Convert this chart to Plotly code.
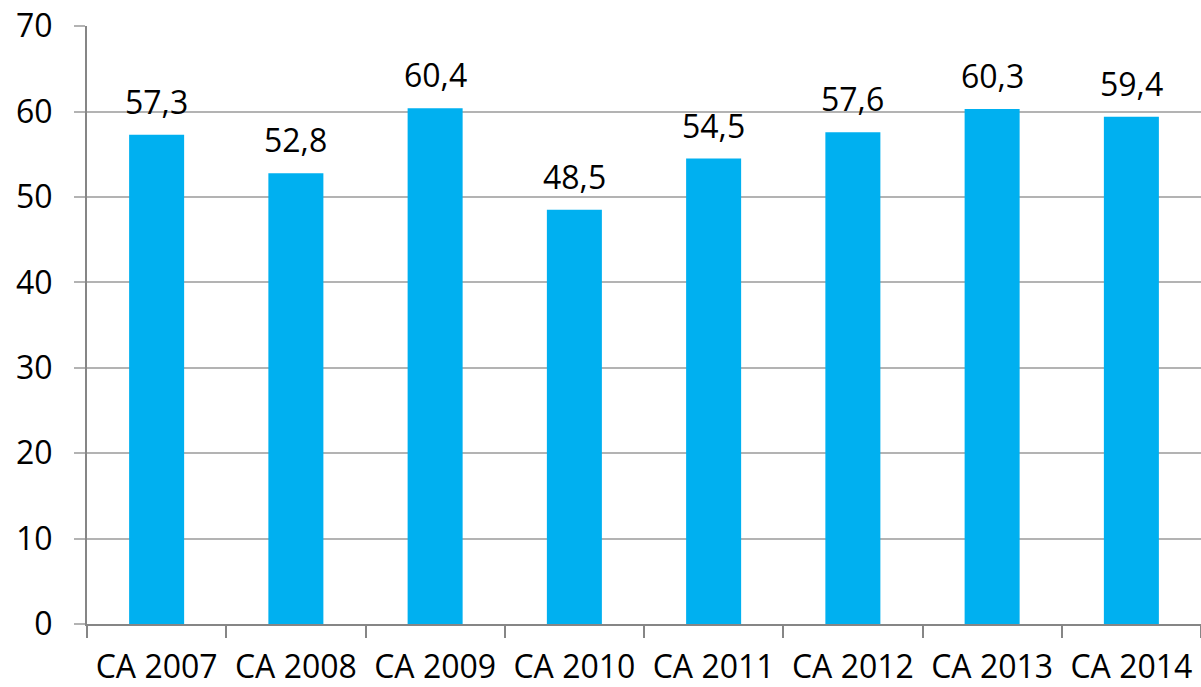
import plotly.graph_objects as go

categories = ["CA 2007", "CA 2008", "CA 2009", "CA 2010", "CA 2011", "CA 2012", "CA 2013", "CA 2014"]
values = [57.3, 52.8, 60.4, 48.5, 54.5, 57.6, 60.3, 59.4]
y_ticks = [0, 10, 20, 30, 40, 50, 60, 70]

labels = [f"{v:.1f}".replace(".", ",") for v in values]

FONT = "Open Sans"
FS = 32

fig = go.Figure(go.Bar(
    x=categories, y=values,
    marker=dict(color="#00B0F0", line=dict(width=0)),
    width=0.395,
))

for c, v, t in zip(categories, values, labels):
    fig.add_annotation(x=c, y=v, text=t, showarrow=False, yanchor="bottom",
                       yshift=10, font=dict(family=FONT, size=FS, color="black"))

fig.update_layout(
    width=1201, height=687,
    margin=dict(l=87, r=0, t=26, b=63, autoexpand=False),
    plot_bgcolor="white", paper_bgcolor="white",
    showlegend=False,
    font=dict(family=FONT, size=FS, color="black"),
)
fig.update_xaxes(
    type="category", tickson="boundaries", ticks="outside", ticklen=12,
    tickcolor="#868686", tickwidth=2, showline=True, linecolor="#868686", linewidth=2,
    showgrid=False, tickfont=dict(family=FONT, size=FS, color="black"),
    range=[-0.5, 7.5], automargin=False, ticklabelstandoff=14,
)
fig.update_yaxes(
    range=[0, 70.03], tickvals=y_ticks, ticks="outside", ticklen=11,
    tickcolor="#B3B3B3", tickwidth=2, showline=True, linecolor="#868686", linewidth=2,
    showgrid=True, gridcolor="#B3B3B3", gridwidth=2, zeroline=False,
    tickfont=dict(family=FONT, size=FS, color="black"), ticklabelstandoff=15,
    automargin=False, ticklabeloverflow="allow",
)

fig.write_html("out.html", config={"displayModeBar": False},
               post_script="document.body.style.margin='0';document.body.style.overflow='hidden';")
